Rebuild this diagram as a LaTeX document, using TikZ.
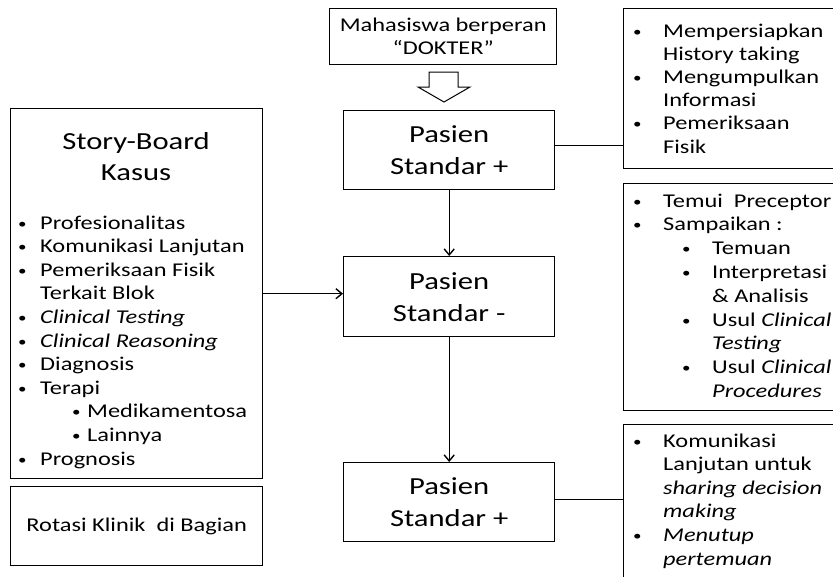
\documentclass[tikz,border=0pt]{standalone}
\usepackage{fontspec}
\setmainfont{Carlito}[FakeStretch=1.25]
\usetikzlibrary{arrows.meta}

% small bullet set in a box of the given width
\newcommand\bul[1]{\makebox[#1][l]{\raisebox{1pt}{\scalebox{0.7}{\textbullet}}}}

\begin{document}
\begin{tikzpicture}[x=1pt,y=-1pt,
  box/.style={draw, line width=1.4pt, inner sep=0pt, anchor=north west},
  itm/.style={anchor=base west, inner sep=0pt, font=\fontsize{19.5}{23}\selectfont},
  big/.style={anchor=base, inner sep=0pt, font=\fontsize{24.5}{31}\selectfont},
  link/.style={line width=1.4pt},
  arr/.style={link, -{Straight Barb[length=6pt,width=10pt]}}
]
% page area
\fill[white] (0,0) rectangle (833,576);
\useasboundingbox (0,0) rectangle (833,576);
\clip (0,0) rectangle (833,576);

% centre column
\node[box, minimum width=227pt, minimum height=56pt, align=center,
      font=\fontsize{19.5}{23}\selectfont] (doc) at (329,8)
      {Mahasiswa berperan\\“DOKTER”};
\draw[line width=1pt, fill=white] (429,72) -- (458,72) -- (458,87) -- (470,87)
      -- (444,102) -- (418,87) -- (429,87) -- cycle;
\node[box, minimum width=211pt, minimum height=79pt, align=center,
      font=\fontsize{24.5}{32}\selectfont] (p1) at (343,110) {Pasien\\Standar +};
\node[box, minimum width=211pt, minimum height=80pt, align=center,
      font=\fontsize{24.5}{32}\selectfont] (p2) at (343,256) {Pasien\\Standar -};
\node[box, minimum width=211pt, minimum height=79pt, align=center,
      font=\fontsize{24.5}{32}\selectfont] (p3) at (343,462) {Pasien\\Standar +};

% left column
\node[box, minimum width=252pt, minimum height=370pt] (sb) at (10,108) {};
\node[big] (sbt1) at (136,149) {Story-Board};
\node[big] (sbt2) at (136,180) {Kasus};
\foreach \x/\t [count=\i] in {
  18/\bul{22pt}Profesionalitas,
  18/\bul{22pt}Komunikasi Lanjutan,
  18/\bul{22pt}Pemeriksaan Fisik,
  40/Terkait Blok,
  18/\bul{22pt}\textit{Clinical Testing},
  18/\bul{22pt}\textit{Clinical Reasoning},
  18/\bul{22pt}Diagnosis,
  18/\bul{22pt}Terapi,
  72/\bul{15pt}Medikamentosa,
  72/\bul{15pt}Lainnya,
  18/\bul{22pt}Prognosis}
  \node[itm, name=sb\i] at (\x,{229+23.6*(\i-1)}) {\t};
\node[box, minimum width=252pt, minimum height=79pt,
      font=\fontsize{19.5}{23}\selectfont] (rot) at (10,486) {Rotasi Klinik\ \ di Bagian};

% right column
\node[box, minimum width=240pt, minimum height=160pt] (r1) at (623,8) {};
\foreach \x/\t [count=\i] in {
  633/\bul{30pt}Mempersiapkan,
  663/History taking,
  633/\bul{30pt}Mengumpulkan,
  663/Informasi,
  633/\bul{30pt}Pemeriksaan,
  663/Fisik}
  \node[itm, name=ra\i] at (\x,{37+23.2*(\i-1)}) {\t};

\node[box, minimum width=240pt, minimum height=227pt] (r2) at (623,183) {};
\foreach \x/\t [count=\i] in {
  633/\bul{30pt}Temui\ \ Preceptor,
  633/\bul{30pt}Sampaikan :,
  682/\bul{30pt}Temuan,
  682/\bul{30pt}Interpretasi,
  712/\& Analisis,
  682/\bul{30pt}Usul \textit{Clinical},
  712/\textit{Testing},
  682/\bul{30pt}Usul \textit{Clinical},
  712/\textit{Procedures}}
  \node[itm, name=rb\i] at (\x,{207+23.8*(\i-1)}) {\t};

\node[box, minimum width=240pt, minimum height=200pt] (r3) at (623,424) {};
\foreach \x/\t [count=\i] in {
  633/\bul{30pt}Komunikasi,
  663/Lanjutan untuk,
  663/\textit{sharing decision},
  663/\textit{making},
  633/\bul{30pt}\textit{Menutup},
  663/\textit{pertemuan}}
  \node[itm, name=rc\i] at (\x,{447+23.6*(\i-1)}) {\t};

% connectors
\draw[arr] (p1) -- (p2);
\draw[arr] (p2) -- (p3);
\draw[arr] (sb.east) -- (sb.east -| p2.west);
\draw[link] ([yshift=4.5pt]p1.east) -- ([yshift=4.5pt]p1.east -| r1.west);
\draw[link] ([yshift=2.5pt]p3.east) -- ([yshift=2.5pt]p3.east -| r3.west);
\end{tikzpicture}
\end{document}
